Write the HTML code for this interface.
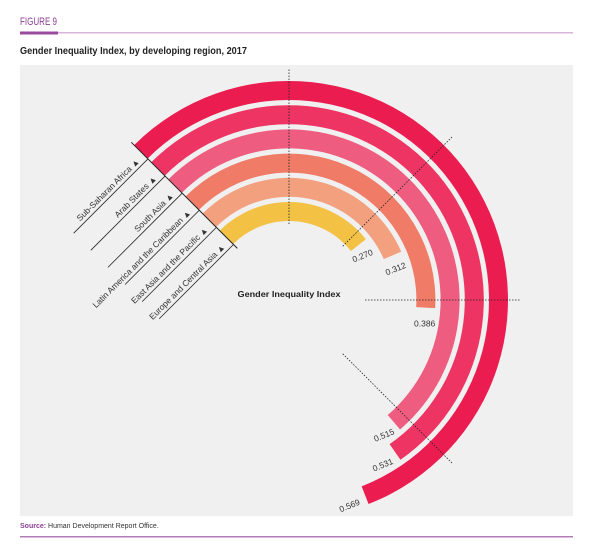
<!DOCTYPE html>
<html><head><meta charset="utf-8"><style>
body{margin:0;width:593px;height:549px;background:#fff;font-family:"Liberation Sans",sans-serif;overflow:hidden}
</style></head><body>
<svg width="593" height="549" viewBox="0 0 593 549">
<text x="20" y="25" font-size="11" fill="#8a3f92" textLength="37" lengthAdjust="spacingAndGlyphs">FIGURE 9</text>
<rect x="20" y="32" width="553" height="1.5" fill="#d7b4d9"/>
<rect x="20" y="31.5" width="38" height="3" fill="#9a4a9e"/>
<text x="20" y="54" font-size="10.5" font-weight="bold" fill="#222" textLength="227" lengthAdjust="spacingAndGlyphs">Gender Inequality Index, by developing region, 2017</text>
<rect x="20" y="65" width="553" height="451" fill="#f0f0f0"/>
<g id="chart"></g>
<text x="289" y="297" font-size="8.5" font-weight="bold" fill="#222" text-anchor="middle" textLength="103" lengthAdjust="spacingAndGlyphs">Gender Inequality Index</text>
<text x="20" y="528" font-size="7" fill="#333"><tspan font-weight="bold" fill="#8a3f92">Source:</tspan> Human Development Report Office.</text>
<rect x="20" y="536" width="553" height="1.5" fill="#b57bb8"/>
</svg>
<script>
const categories=["Sub-Saharan Africa","Arab States","South Asia","Latin America and the Caribbean","East Asia and the Pacific","Europe and Central Asia"];
const values=[0.569,0.531,0.515,0.386,0.312,0.270];
const valueLabels=["0.569","0.531","0.515","0.386","0.312","0.270"];
const colors=["#eb1d50","#ed3462","#ee5c80","#f07b66","#f3a07e","#f3c144"];
const NS="http://www.w3.org/2000/svg";
const g=document.getElementById('chart');
const cx=289,cy=300,startA=-45,degPer=358;
const outerR=219,pitch=24.2,width=19;
function ang(v){return startA+v*degPer;}
function pt(a,r){const t=a*Math.PI/180;return [cx+r*Math.sin(t),cy-r*Math.cos(t)];}
function mk(tag,attrs){const e=document.createElementNS(NS,tag);for(const k in attrs)e.setAttribute(k,attrs[k]);g.appendChild(e);return e;}
values.forEach(function(v,i){
  const ro=outerR-i*pitch,ri=ro-width,a0=startA,a1=ang(v);
  const large=(a1-a0)>180?1:0;
  const p1=pt(a0,ro),p2=pt(a1,ro),p3=pt(a1,ri),p4=pt(a0,ri);
  const p=mk('path',{d:`M${p1[0]},${p1[1]}A${ro},${ro} 0 ${large} 1 ${p2[0]},${p2[1]}L${p3[0]},${p3[1]}A${ri},${ri} 0 ${large} 0 ${p4[0]},${p4[1]}Z`,fill:colors[i]});
  
  
  const lp=pt(a1+4.5,(ro+ri)/2);
  const rot=Math.abs(a1-90)<8?0:-22;
  const t=mk('text',{x:lp[0],y:lp[1]+8,'font-size':8.5,fill:'#333','text-anchor':'middle',transform:`rotate(${rot} ${lp[0]} ${lp[1]+5})`});
  t.textContent=valueLabels[i];
  
  
  const s=pt(startA,ri-0.5);
  const L=105,e=[s[0]-L/Math.SQRT2,s[1]+L/Math.SQRT2];
  const ln=mk('line',{x1:s[0],y1:s[1],x2:e[0],y2:e[1],stroke:'#222','stroke-width':0.8});
  
  
  const tx=s[0]-8,ty=s[1]+3;
  const ct=mk('text',{x:tx,y:ty,'font-size':8.5,fill:'#333','text-anchor':'end',transform:`rotate(-45 ${tx} ${ty})`});
  ct.textContent=categories[i]+' \u25B2';
  
  
});
// dotted guide lines on top of rings
[0,45,90,135].forEach(function(d){
  const a=pt(d,76),b=pt(d,232);
  const l=mk('line',{x1:a[0],y1:a[1],x2:b[0],y2:b[1],stroke:'#222','stroke-width':0.8,'stroke-dasharray':'1.5,1.5'});
  
  
});
const sa=pt(startA,outerR+4),sb=pt(startA,outerR-5*pitch-width-6);
const sep=mk('line',{x1:sa[0],y1:sa[1],x2:sb[0],y2:sb[1],stroke:'#222','stroke-width':1});


</script>
</body></html>
